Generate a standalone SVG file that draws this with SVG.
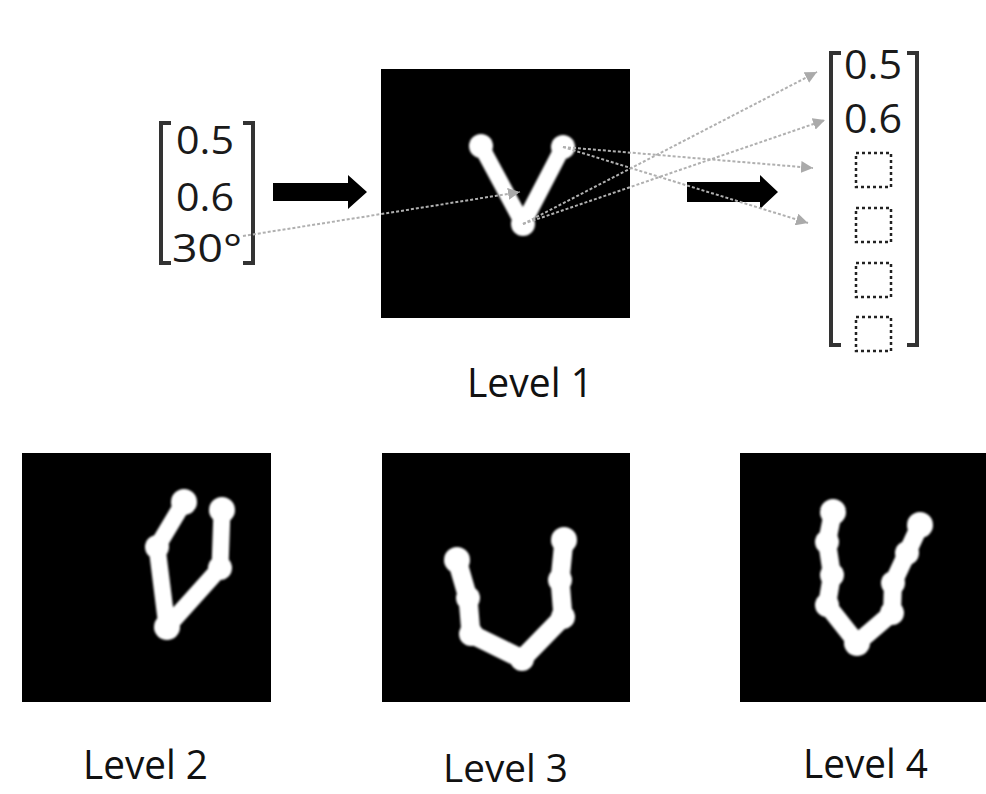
<svg xmlns="http://www.w3.org/2000/svg" width="986" height="794" viewBox="0 0 986 794">
  <style>
    .num { font-family: "Open Sans", "Liberation Sans", sans-serif; fill: #1a1a1a; }
    .lbl { font-family: "Open Sans", "Liberation Sans", sans-serif; font-size: 40px; fill: #111; }
    .panel { fill: #000; }
    .stroke { fill: none; stroke: #fff; stroke-width: 17; stroke-linecap: round; stroke-linejoin: round; }
    .joint { fill: #fff; }
    .bracket { fill: none; stroke: #333; stroke-width: 4; }
    .slot { fill: none; stroke: #222; stroke-width: 2.5; stroke-dasharray: 3 3; }
    .link { fill: none; stroke: #b0b0b0; stroke-width: 2; stroke-dasharray: 3 2; marker-end: url(#tri); }
    .bigArrow { fill: #000; }
  </style>
  <defs>
    <marker id="tri" viewBox="0 0 10 10" refX="10" refY="5" markerWidth="6" markerHeight="6" markerUnits="strokeWidth" orient="auto">
      <path d="M0,0 L10,5 L0,10 z" fill="#aaa"/>
    </marker>
    <filter id="soft" x="-10%" y="-10%" width="120%" height="120%">
      <feGaussianBlur stdDeviation="0.8"/>
    </filter>
  </defs>

  <rect width="986" height="794" fill="#fff"/>

  <!-- input vector -->
  <g id="input-vector">
    <path class="bracket" d="M171,123 H161 V263 H171"/>
    <path class="bracket" d="M243,123 H253 V263 H243"/>
    <text class="num" x="176" y="154" font-size="38" textLength="58" lengthAdjust="spacingAndGlyphs">0.5</text>
    <text class="num" x="176" y="211" font-size="38" textLength="58" lengthAdjust="spacingAndGlyphs">0.6</text>
    <text class="num" x="172" y="262" font-size="38" textLength="70" lengthAdjust="spacingAndGlyphs">30°</text>
  </g>

  <!-- level 1 skeleton -->
  <g id="level1">
    <rect class="panel" x="381" y="69" width="249" height="249"/>
    <g filter="url(#soft)">
      <polyline class="stroke" style="stroke-width:16" points="481,146 523,224 563,147"/>
      <circle class="joint" cx="481" cy="146" r="12"/>
      <circle class="joint" cx="563" cy="147" r="12"/>
      <circle class="joint" cx="523" cy="224" r="12"/>
    </g>
    <text class="lbl" x="467" y="397" textLength="126" lengthAdjust="spacingAndGlyphs">Level 1</text>
  </g>

  <!-- output vector -->
  <g id="output-vector">
    <path class="bracket" d="M841,53 H831 V345 H841"/>
    <path class="bracket" d="M907,53 H917 V345 H907"/>
    <text class="num" x="844" y="79" font-size="41" textLength="58" lengthAdjust="spacingAndGlyphs">0.5</text>
    <text class="num" x="844" y="133" font-size="41" textLength="58" lengthAdjust="spacingAndGlyphs">0.6</text>
    <rect class="slot" x="856" y="153" width="35" height="34"/>
    <rect class="slot" x="856" y="208" width="35" height="34"/>
    <rect class="slot" x="856" y="263" width="35" height="34"/>
    <rect class="slot" x="856" y="317" width="35" height="34"/>
  </g>

  <!-- connectors -->
  <g id="connectors">
    <path class="bigArrow" d="M273,183 H348 V175 L367,192 L348,209 V201 H273 z"/>
    <path class="bigArrow" d="M687,182 H760 V175 L778,192 L760,209 V202 H687 z"/>
    <line class="link" x1="243" y1="236" x2="520" y2="192"/>
    <line class="link" x1="563" y1="147" x2="813" y2="168"/>
    <line class="link" x1="563" y1="147" x2="808" y2="223"/>
    <line class="link" x1="523" y1="224" x2="817" y2="72"/>
    <line class="link" x1="523" y1="224" x2="825" y2="120"/>
  </g>

  <!-- level 2 -->
  <g id="level2">
    <rect class="panel" x="22" y="453" width="249" height="249"/>
    <g filter="url(#soft)">
      <polyline class="stroke" points="184,502 157,547 167,627 220,568 222,510"/>
      <circle class="joint" cx="184" cy="502" r="13"/>
      <circle class="joint" cx="222" cy="510" r="13"/>
      <circle class="joint" cx="157" cy="547" r="12"/>
      <circle class="joint" cx="220" cy="568" r="12"/>
      <circle class="joint" cx="167" cy="627" r="13"/>
    </g>
    <text class="lbl" x="83" y="779" textLength="125" lengthAdjust="spacingAndGlyphs">Level 2</text>
  </g>

  <!-- level 3 -->
  <g id="level3">
    <rect class="panel" x="382" y="453" width="248" height="249"/>
    <g filter="url(#soft)">
      <polyline class="stroke" style="stroke-width:19" points="457,560 468,598 471,634 522,659 563,617 560,580 564,540"/>
      <circle class="joint" cx="457" cy="560" r="13"/>
      <circle class="joint" cx="468" cy="598" r="12"/>
      <circle class="joint" cx="471" cy="634" r="12"/>
      <circle class="joint" cx="522" cy="659" r="12"/>
      <circle class="joint" cx="563" cy="617" r="12"/>
      <circle class="joint" cx="560" cy="580" r="12"/>
      <circle class="joint" cx="564" cy="540" r="13"/>
    </g>
    <text class="lbl" x="443" y="782" font-size="38" style="font-size:38px" textLength="125" lengthAdjust="spacingAndGlyphs">Level 3</text>
  </g>

  <!-- level 4 -->
  <g id="level4">
    <rect class="panel" x="740" y="453" width="246" height="249"/>
    <g filter="url(#soft)">
      <polyline class="stroke" style="stroke-width:18" points="833,512 827,542 832,575 827,605 857,643 892,613 893,583 907,553 920,525"/>
      <circle class="joint" cx="833" cy="512" r="13"/>
      <circle class="joint" cx="827" cy="542" r="12"/>
      <circle class="joint" cx="832" cy="575" r="12"/>
      <circle class="joint" cx="827" cy="605" r="12"/>
      <circle class="joint" cx="857" cy="643" r="13"/>
      <circle class="joint" cx="892" cy="613" r="12"/>
      <circle class="joint" cx="893" cy="583" r="12"/>
      <circle class="joint" cx="907" cy="553" r="12"/>
      <circle class="joint" cx="920" cy="525" r="13"/>
    </g>
    <text class="lbl" x="803" y="778" textLength="125" lengthAdjust="spacingAndGlyphs">Level 4</text>
  </g>
</svg>
